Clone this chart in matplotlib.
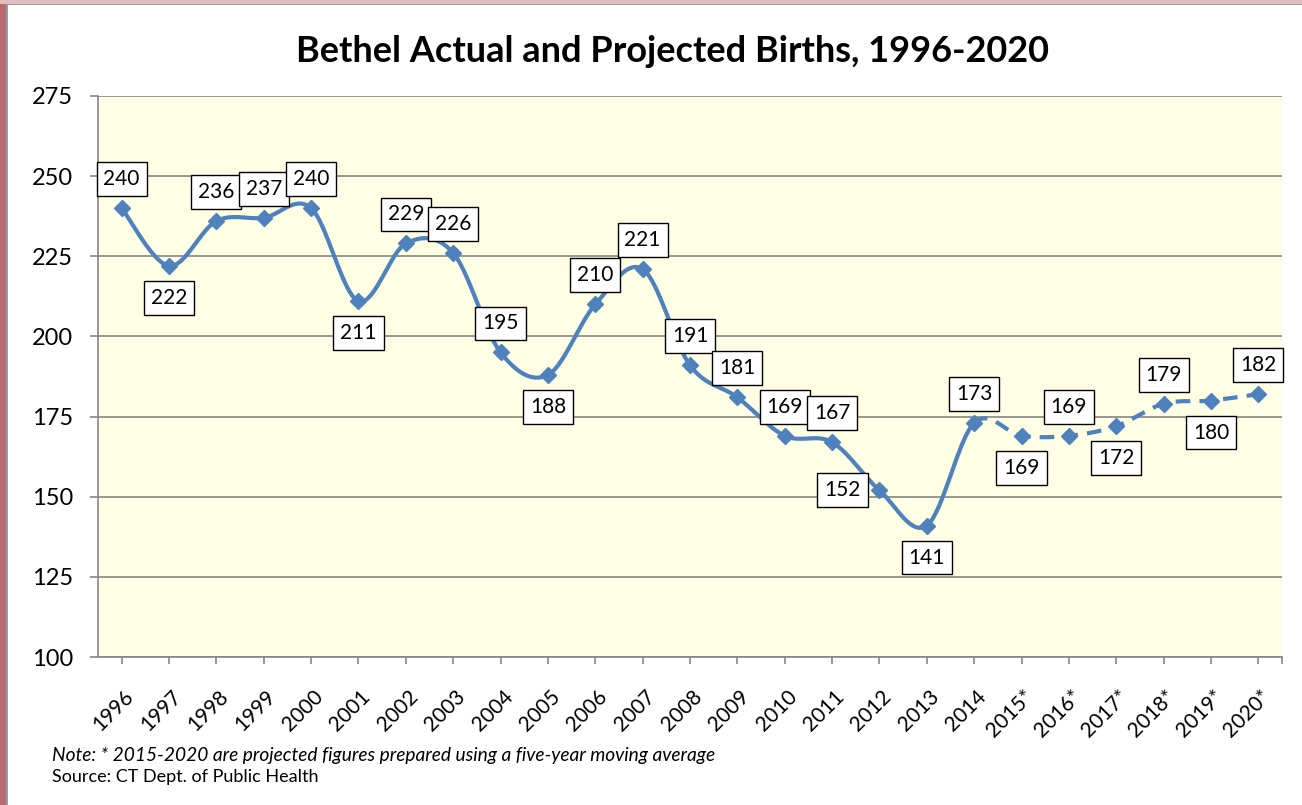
import numpy as np
import matplotlib.pyplot as plt
from matplotlib.patches import Rectangle
from matplotlib.transforms import ScaledTranslation

years = ['1996', '1997', '1998', '1999', '2000', '2001', '2002', '2003', '2004',
         '2005', '2006', '2007', '2008', '2009', '2010', '2011', '2012', '2013',
         '2014', '2015*', '2016*', '2017*', '2018*', '2019*', '2020*']
births = [240, 222, 236, 237, 240, 211, 229, 226, 195, 188, 210, 221, 191,
          181, 169, 167, 152, 141, 173, 169, 169, 172, 179, 180, 182]
n_actual = 19  # 1996-2014 are actual, rest projected

# where each data label sits relative to its point
label_pos = ['a', 'b', 'a', 'a', 'a', 'b', 'a', 'a', 'a', 'b', 'a', 'a', 'a',
             'a', 'a', 'a', 'l', 'b', 'a', 'b', 'a', 'b', 'a', 'b', 'a']

blue = '#4F81BD'
grid_c = '#868686'

plt.rcParams['font.family'] = ['Lato', 'DejaVu Sans']


def catmull_rom(x, y, steps=30):
    x = np.asarray(x, float)
    y = np.asarray(y, float)
    px = np.concatenate([[x[0]], x, [x[-1]]])
    py = np.concatenate([[y[0]], y, [y[-1]]])
    xs, ys = [], []
    t = np.linspace(0, 1, steps)
    for i in range(1, len(px) - 2):
        for p, out in ((px, xs), (py, ys)):
            p0, p1, p2, p3 = p[i - 1], p[i], p[i + 1], p[i + 2]
            seg = 0.5 * ((2 * p1) + (-p0 + p2) * t +
                         (2 * p0 - 5 * p1 + 4 * p2 - p3) * t ** 2 +
                         (-p0 + 3 * p1 - 3 * p2 + p3) * t ** 3)
            out.extend(seg if i == 1 else seg[1:])
    return np.array(xs), np.array(ys)


fig = plt.figure(figsize=(13.02, 8.05), dpi=100)
fig.patch.set_facecolor('white')
ax = fig.add_axes([98 / 1302, 1 - 657 / 805, (1282 - 98) / 1302, (657 - 96) / 805])
ax.set_facecolor('#FFFFE5')

# frame strips of the original slide
fig.patches.append(Rectangle((0, 0), 6 / 1302, 1, transform=fig.transFigure,
                             facecolor='#B86A6E', edgecolor='none', zorder=0))
fig.patches.append(Rectangle((0, 1 - 4 / 805), 1, 4 / 805, transform=fig.transFigure,
                             facecolor='#E3BDBD', edgecolor='none', zorder=0))
fig.patches.append(Rectangle((6 / 1302, 0), 1.5 / 1302, 1 - 4 / 805, transform=fig.transFigure,
                             facecolor='#9A9A9A', edgecolor='none', zorder=0))
fig.patches.append(Rectangle((6 / 1302, 1 - 5.5 / 805), 1, 1.5 / 805, transform=fig.transFigure,
                             facecolor='#9A9A9A', edgecolor='none', zorder=0))

x = np.arange(len(years))
# smooth line: actual part solid, projected part dashed
sx, sy = catmull_rom(x, births, steps=40)
cut = (n_actual - 1) * 39
ax.plot(sx[:cut + 1], sy[:cut + 1], color=blue, lw=3.0, solid_capstyle='round', zorder=3)
ax.plot(sx[cut:], sy[cut:], color=blue, lw=3.0, dashes=(3.5, 2.2), zorder=3)
ax.plot(x, births, linestyle='none', marker='D', markersize=8.5, color=blue, zorder=4)

for xi, v, pos in zip(x, births, label_pos):
    if pos == 'a':
        off = (0, 29)
    elif pos == 'b':
        off = (0, -32)
    else:
        off = (-37, 0)
    ax.annotate(str(v), (xi, v), xytext=(off[0] * 0.72, off[1] * 0.72),
                textcoords='offset points', ha='center', va='center',
                fontsize=15, color='black', zorder=5,
                bbox=dict(boxstyle='square,pad=0.33', facecolor='white',
                          edgecolor='black', linewidth=1.0))

ax.set_xlim(-0.5, len(years) - 0.5)
ax.set_ylim(100, 275)
ax.set_yticks(np.arange(100, 276, 25))
ax.yaxis.grid(True, color=grid_c, lw=1.2)
ax.set_axisbelow(True)
ax.tick_params(axis='y', length=6, width=1.2, color=grid_c, pad=12, labelsize=17)

ax.set_xticks(x)
ax.set_xticklabels(years, rotation=45, ha='right', va='center',
                   rotation_mode='anchor', fontsize=15)
ax.set_xticks([len(years) - 0.5], minor=True)
ax.tick_params(axis='x', which='major', length=5, width=1.2, color=grid_c, pad=21)
ax.tick_params(axis='x', which='minor', length=5, width=1.2, color=grid_c)
shift = ScaledTranslation(9 / 100, 0, fig.dpi_scale_trans)
for lab in ax.get_xticklabels():
    lab.set_transform(lab.get_transform() + shift)

for s in ['top', 'right']:
    ax.spines[s].set_visible(False)
for s in ['left', 'bottom']:
    ax.spines[s].set_color(grid_c)
    ax.spines[s].set_linewidth(1.2)

fig.text(672 / 1302, 1 - 52 / 805, 'Bethel Actual and Projected Births, 1996-2020',
         ha='center', va='center', fontsize=26, fontweight='bold')
fig.text(52 / 1302, 1 - 755 / 805,
         'Note: * 2015-2020 are projected figures prepared using a five-year moving average',
         ha='left', va='center', fontsize=13.8, style='italic')
fig.text(52 / 1302, 1 - 777 / 805, 'Source: CT Dept. of Public Health',
         ha='left', va='center', fontsize=13)

fig.savefig('out.png', dpi=100)
